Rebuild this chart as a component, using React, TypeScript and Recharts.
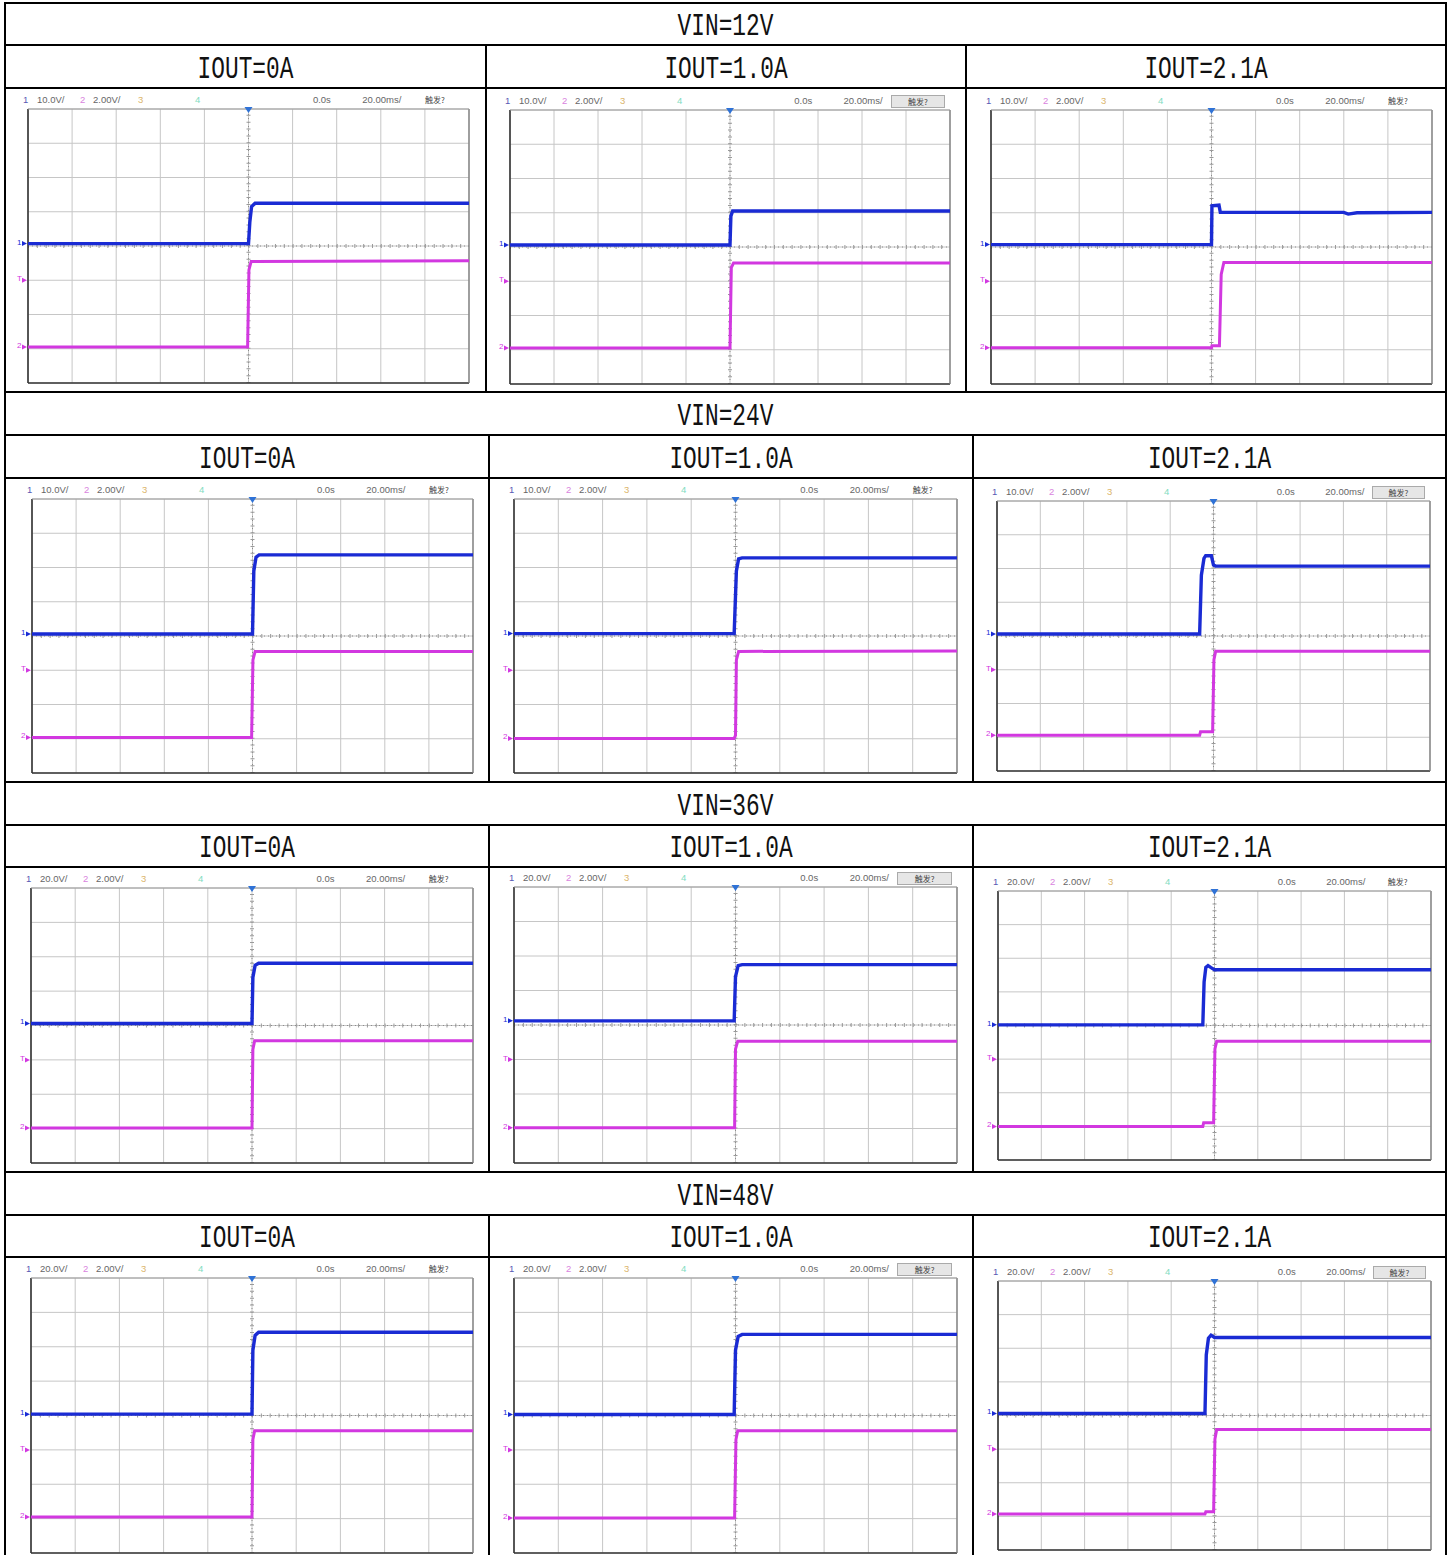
import React from 'react'
import {
  LineChart,
  Line,
  XAxis,
  YAxis,
  CartesianGrid,
  ReferenceLine,
  ReferenceDot,
} from 'recharts'

// table labels
const vinLabels = ['VIN=12V', 'VIN=24V', 'VIN=36V', 'VIN=48V']
const ioutLabels = ['IOUT=0A', 'IOUT=1.0A', 'IOUT=2.1A']

// scope readouts
const ch1Scales = ['10.0V/', '10.0V/', '20.0V/', '20.0V/']
const ch2Scale = '2.00V/'
const delayText = '0.0s'
const timeScale = '20.00ms/'
const trigText = '触发?'
// which screenshots show the trigger text inside a button
const trigButton = [
  [false, true, false],
  [false, false, true],
  [false, true, false],
  [false, true, true],
]

// grid divisions (10 x 8)
const xTicks = [0, 1, 2, 3, 4, 5, 6, 7, 8, 9, 10]
const yTicks = [0, 1, 2, 3, 4, 5, 6, 7, 8]
const trigLevel = 3.0

// traces, [time div, level div]
// ch1 = blue, ch2 = magenta
const blue12_0 = [[0, 4.07], [5.0, 4.07], [5.03, 4.7], [5.07, 5.15], [5.15, 5.25], [10, 5.25]]
const mag12_0 = [[0, 1.05], [4.98, 1.05], [5.01, 3.3], [5.06, 3.55], [10, 3.57]]
const blue12_1 = [[0, 4.06], [5.0, 4.06], [5.02, 4.9], [5.06, 5.05], [10, 5.05]]
const mag12_1 = [[0, 1.05], [5.0, 1.05], [5.03, 3.4], [5.08, 3.53], [10, 3.53]]
const blue12_2 = [[0, 4.07], [5.0, 4.07], [5.01, 5.2], [5.17, 5.22], [5.2, 5.01], [8.0, 5.01], [8.1, 4.96], [8.3, 5.0], [10, 5.01]]
const mag12_2 = [[0, 1.06], [5.0, 1.06], [5.01, 1.12], [5.18, 1.12], [5.22, 3.2], [5.28, 3.55], [10, 3.55]]

const blue24_0 = [[0, 4.06], [5.0, 4.06], [5.03, 5.9], [5.08, 6.3], [5.15, 6.37], [10, 6.37]]
const mag24_0 = [[0, 1.04], [4.98, 1.04], [5.01, 3.3], [5.06, 3.55], [10, 3.55]]
const blue24_1 = [[0, 4.07], [4.97, 4.07], [5.02, 5.9], [5.07, 6.25], [5.15, 6.28], [10, 6.28]]
const mag24_1 = [[0, 1.01], [4.97, 1.01], [5.0, 1.1], [5.02, 3.3], [5.07, 3.55], [10, 3.56]]
const blue24_2 = [[0, 4.06], [4.68, 4.06], [4.72, 5.8], [4.78, 6.3], [4.82, 6.38], [4.95, 6.38], [5.0, 6.1], [5.05, 6.07], [10, 6.07]]
const mag24_2 = [[0, 1.06], [4.68, 1.06], [4.7, 1.16], [4.98, 1.16], [5.01, 3.3], [5.05, 3.55], [10, 3.55]]

const blue36_0 = [[0, 4.06], [5.0, 4.06], [5.02, 5.4], [5.07, 5.75], [5.15, 5.81], [10, 5.81]]
const mag36_0 = [[0, 1.02], [5.0, 1.02], [5.02, 3.3], [5.06, 3.56], [10, 3.56]]
const blue36_1 = [[0, 4.12], [4.97, 4.12], [5.0, 5.4], [5.06, 5.72], [5.15, 5.75], [10, 5.75]]
const mag36_1 = [[0, 1.02], [4.98, 1.02], [5.0, 3.3], [5.05, 3.53], [10, 3.53]]
const blue36_2 = [[0, 4.02], [4.73, 4.02], [4.76, 5.3], [4.8, 5.73], [4.85, 5.78], [4.92, 5.72], [5.0, 5.66], [10, 5.66]]
const mag36_2 = [[0, 1.0], [4.73, 1.0], [4.75, 1.11], [4.98, 1.11], [5.01, 3.3], [5.05, 3.53], [10, 3.53]]

const blue48_0 = [[0, 4.04], [5.0, 4.04], [5.02, 5.9], [5.07, 6.33], [5.15, 6.42], [10, 6.42]]
const mag48_0 = [[0, 1.05], [5.0, 1.05], [5.02, 3.3], [5.06, 3.56], [10, 3.56]]
const blue48_1 = [[0, 4.03], [4.97, 4.03], [5.0, 5.9], [5.06, 6.3], [5.15, 6.36], [10, 6.36]]
const mag48_1 = [[0, 1.02], [4.98, 1.02], [5.01, 3.3], [5.05, 3.56], [10, 3.56]]
const blue48_2 = [[0, 4.06], [4.78, 4.06], [4.81, 5.8], [4.86, 6.3], [4.92, 6.39], [5.0, 6.32], [10, 6.32]]
const mag48_2 = [[0, 1.07], [4.78, 1.07], [4.8, 1.14], [4.98, 1.14], [5.01, 3.3], [5.05, 3.58], [10, 3.58]]

const traces = [
  [[blue12_0, mag12_0], [blue12_1, mag12_1], [blue12_2, mag12_2]],
  [[blue24_0, mag24_0], [blue24_1, mag24_1], [blue24_2, mag24_2]],
  [[blue36_0, mag36_0], [blue36_1, mag36_1], [blue36_2, mag36_2]],
  [[blue48_0, mag48_0], [blue48_1, mag48_1], [blue48_2, mag48_2]],
]

// page layout (px)
const layout = [
  {
    top: 3, head: 45, scope: 88, bottom: 392, cols: [5, 486, 966, 1446],
    plots: [{ x: 28, y: 109, w: 441, h: 274 }, { x: 510, y: 110, w: 440, h: 274 }, { x: 991, y: 110, w: 441, h: 274 }],
  },
  {
    top: 392, head: 435, scope: 478, bottom: 782, cols: [5, 489, 973, 1446],
    plots: [{ x: 32, y: 499, w: 441, h: 274 }, { x: 514, y: 499, w: 443, h: 274 }, { x: 997, y: 501, w: 433, h: 270 }],
  },
  {
    top: 782, head: 825, scope: 867, bottom: 1172, cols: [5, 489, 973, 1446],
    plots: [{ x: 31, y: 888, w: 442, h: 275 }, { x: 514, y: 887, w: 443, h: 276 }, { x: 998, y: 891, w: 433, h: 269 }],
  },
  {
    top: 1172, head: 1215, scope: 1257, bottom: 1556, cols: [5, 489, 973, 1446],
    plots: [{ x: 31, y: 1278, w: 442, h: 275 }, { x: 514, y: 1278, w: 443, h: 275 }, { x: 998, y: 1281, w: 433, h: 269 }],
  },
]

const BLUE = '#1a2bd4'
const MAGENTA = '#d238e0'

const pts = (arr: number[][]) => arr.map(([t, v]) => ({ t, v }))

const HLine = ({ x1, x2, y }: { x1: number; x2: number; y: number }) => (
  <div style={{ position: 'absolute', left: x1 - 1, top: y - 1, width: x2 - x1 + 2, height: 2, background: '#000' }} />
)
const VLine = ({ x, y1, y2 }: { x: number; y1: number; y2: number }) => (
  <div style={{ position: 'absolute', left: x - 1, top: y1 - 1, width: 2, height: y2 - y1 + 2, background: '#000' }} />
)

const CellText = ({ x1, x2, y1, y2, text }: { x1: number; x2: number; y1: number; y2: number; text: string }) => (
  <div
    style={{
      position: 'absolute',
      left: x1,
      top: y1,
      width: x2 - x1,
      height: y2 - y1,
      display: 'flex',
      alignItems: 'center',
      justifyContent: 'center',
    }}
  >
    <span
      style={{
        fontFamily: '"Liberation Mono", "DejaVu Sans Mono", monospace',
        fontSize: 22.8,
        color: '#111',
        display: 'inline-block',
        transform: 'translateY(3px) scaleY(1.35)',
        whiteSpace: 'pre',
      }}
    >
      {text}
    </span>
  </div>
)

type Box = { x: number; y: number; w: number; h: number }

const ScopeHeader = ({ box, ch1, button }: { box: Box; ch1: string; button: boolean }) => {
  const top = box.y - 15
  const items = [
    { t: '1', dx: -5, c: '#5a5ab4' },
    { t: ch1, dx: 9, c: '#666' },
    { t: '2', dx: 52, c: '#d984de' },
    { t: ch2Scale, dx: 65, c: '#666' },
    { t: '3', dx: 110, c: '#dbb46a' },
    { t: '4', dx: 167, c: '#7fdcbf' },
    { t: delayText, dx: box.w * 0.646, c: '#666' },
    { t: timeScale, dx: box.w * 0.758, c: '#666' },
  ]
  return (
    <>
      {items.map((it, i) => (
        <span
          key={i}
          style={{
            position: 'absolute',
            left: box.x + it.dx,
            top,
            fontFamily: '"Liberation Sans", Arial, sans-serif',
            fontSize: 9.5,
            lineHeight: '12px',
            color: it.c,
            whiteSpace: 'nowrap',
          }}
        >
          {it.t}
        </span>
      ))}
      {button ? (
        <div
          style={{
            position: 'absolute',
            left: box.x + box.w * 0.865,
            top: top,
            width: box.w * 0.12,
            height: 11,
            background: '#e6e6e6',
            border: '1px solid #aaa',
            fontFamily: '"Noto Sans CJK SC", sans-serif',
            fontSize: 8,
            lineHeight: '11px',
            textAlign: 'center',
            color: '#444',
          }}
        >
          {trigText}
        </div>
      ) : (
        <span
          style={{
            position: 'absolute',
            left: box.x + box.w * 0.9,
            top,
            fontFamily: '"Noto Sans CJK SC", sans-serif',
            fontSize: 8,
            lineHeight: '12px',
            color: '#444',
          }}
        >
          {trigText}
        </span>
      )}
    </>
  )
}

const leftMarker = (label: string, color: string) => (props: any) => {
  const { cx, cy } = props
  if (cx == null || cy == null) return <g />
  return (
    <g>
      <text x={cx - 11} y={cy + 1} fontSize={8} fill={color} fontFamily="Liberation Sans, sans-serif">
        {label}
      </text>
      <polygon points={`${cx - 6},${cy - 2.5} ${cx - 1},${cy} ${cx - 6},${cy + 2.5}`} fill={color} />
    </g>
  )
}

const trigMarker = (props: any) => {
  const { cx, cy } = props
  if (cx == null || cy == null) return <g />
  return <polygon points={`${cx - 4},${cy - 2} ${cx + 4},${cy - 2} ${cx},${cy + 4}`} fill="#2f72d6" />
}

const Scope = ({ box, blue, mag }: { box: Box; blue: number[][]; mag: number[][] }) => {
  const padL = 16
  const padT = 5
  const padR = 2
  const padB = 2
  // minor graduation on the centre lines: 5 per division
  const hStep = box.w / 50
  const vStep = box.h / 40
  return (
    <div style={{ position: 'absolute', left: box.x - padL, top: box.y - padT }}>
      <LineChart
        width={box.w + padL + padR}
        height={box.h + padT + padB}
        margin={{ top: padT, right: padR, bottom: padB, left: padL }}
      >
        <XAxis type="number" dataKey="t" domain={[0, 10]} ticks={xTicks} hide allowDataOverflow />
        <YAxis type="number" domain={[0, 8]} ticks={yTicks} hide allowDataOverflow />
        <CartesianGrid stroke="#c6c6c6" strokeWidth={1} />
        <ReferenceLine x={5} stroke="#8c8c8c" strokeDasharray="1 3" />
        <ReferenceLine y={4} stroke="#8c8c8c" strokeDasharray="1 3" />
        <ReferenceLine y={4} stroke="#9a9a9a" strokeWidth={4} strokeDasharray={`1 ${hStep - 1}`} />
        <ReferenceLine x={5} stroke="#9a9a9a" strokeWidth={4} strokeDasharray={`1 ${vStep - 1}`} />
        <ReferenceLine x={0} stroke="#333" strokeWidth={1.6} />
        <ReferenceLine y={0} stroke="#333" strokeWidth={1.6} />
        <ReferenceLine x={10} stroke="#7a7a7a" strokeWidth={1.3} />
        <ReferenceLine y={8} stroke="#9a9a9a" />
        <Line
          data={pts(mag)}
          dataKey="v"
          type="linear"
          stroke={MAGENTA}
          strokeWidth={3}
          dot={false}
          isAnimationActive={false}
        />
        <Line
          data={pts(blue)}
          dataKey="v"
          type="linear"
          stroke={BLUE}
          strokeWidth={3.4}
          dot={false}
          isAnimationActive={false}
        />
        <ReferenceDot x={0} y={blue[0][1]} r={0} ifOverflow="visible" shape={leftMarker('1', BLUE)} />
        <ReferenceDot x={0} y={trigLevel} r={0} ifOverflow="visible" shape={leftMarker('T', MAGENTA)} />
        <ReferenceDot x={0} y={mag[0][1]} r={0} ifOverflow="visible" shape={leftMarker('2', MAGENTA)} />
        <ReferenceDot x={5} y={8} r={0} ifOverflow="visible" shape={trigMarker} />
      </LineChart>
    </div>
  )
}

export default function App() {
  return (
    <div style={{ position: 'absolute', left: 0, top: 0, width: 1455, height: 1555, background: '#fff', overflow: 'hidden' }}>
      {layout.map((g, gi) => (
        <React.Fragment key={gi}>
          <HLine x1={5} x2={1446} y={g.top} />
          <HLine x1={5} x2={1446} y={g.head} />
          <HLine x1={5} x2={1446} y={g.scope} />
          <VLine x={g.cols[1]} y1={g.head} y2={g.bottom} />
          <VLine x={g.cols[2]} y1={g.head} y2={g.bottom} />
          <CellText x1={5} x2={1446} y1={g.top} y2={g.head} text={vinLabels[gi]} />
          {ioutLabels.map((lab, ci) => (
            <CellText key={ci} x1={g.cols[ci]} x2={g.cols[ci + 1]} y1={g.head} y2={g.scope} text={lab} />
          ))}
          {g.plots.map((box, ci) => (
            <React.Fragment key={'p' + ci}>
              <ScopeHeader box={box} ch1={ch1Scales[gi]} button={trigButton[gi][ci]} />
              <Scope box={box} blue={traces[gi][ci][0]} mag={traces[gi][ci][1]} />
            </React.Fragment>
          ))}
        </React.Fragment>
      ))}
      <VLine x={5} y1={3} y2={1556} />
      <VLine x={1446} y1={3} y2={1556} />
    </div>
  )
}
